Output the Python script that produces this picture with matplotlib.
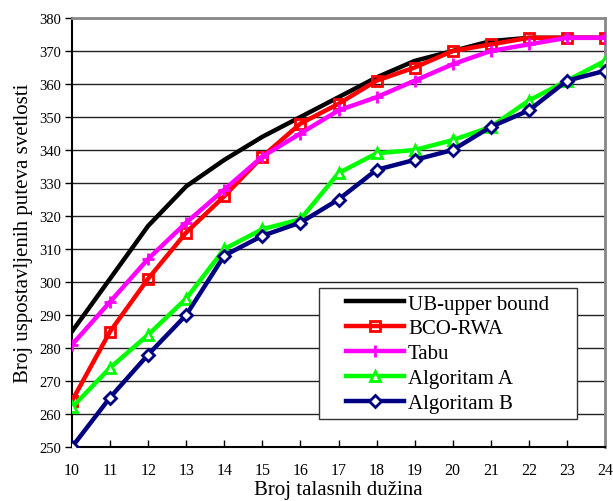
import matplotlib
matplotlib.use("Agg")
import matplotlib.pyplot as plt
from matplotlib.patches import Rectangle

# Data
wavelengths = [10, 11, 12, 13, 14, 15, 16, 17, 18, 19, 20, 21, 22, 23, 24]
ub = [285, 301, 317, 329, 337, 344, 350, 356, 362, 367, 370, 373, 374, 374, 374]
bco_rwa = [264, 285, 301, 315, 326, 338, 348, 354, 361, 365, 370, 372, 374, 374, 374]
tabu = [281, 294, 307, 318, 328, 338, 345, 352, 356, 361, 366, 370, 372, 374, 374]
alg_a = [262, 274, 284, 295, 310, 316, 319, 333, 339, 340, 343, 347, 355, 361, 367]
alg_b = [250, 265, 278, 290, 308, 314, 318, 325, 334, 337, 340, 347, 352, 361, 364]

labels = ["UB-upper bound", "BCO-RWA", "Tabu", "Algoritam A", "Algoritam B"]
y_ticks = list(range(250, 381, 10))

plt.rcParams["font.family"] = ["Liberation Serif", "DejaVu Serif"]

fig = plt.figure(figsize=(6.13, 5.02), dpi=100)
ax = fig.add_axes([72 / 613, 54 / 502, 533 / 613, 429 / 502])

lw = 3.2
ax.plot(wavelengths, ub, color="black", lw=lw, label=labels[0], zorder=3)
ax.plot(wavelengths, bco_rwa, color="#ff0000", lw=lw, marker="s", ms=7,
        mfc="none", mec="#ff0000", mew=2, label=labels[1], zorder=4)
ax.plot(wavelengths, tabu, color="#ff00ff", lw=lw, marker="+", ms=8,
        mew=2, label=labels[2], zorder=5)
ax.plot(wavelengths, alg_a, color="#00ff00", lw=lw, marker="^", ms=7,
        mfc="white", mec="#00ff00", mew=2, label=labels[3], zorder=4)
ax.plot(wavelengths, alg_b, color="#000080", lw=lw, marker="D", ms=6,
        mfc="white", mec="#000080", mew=2, label=labels[4], zorder=5)

ax.set_xlim(10, 24)
ax.set_ylim(250, 380)
ax.set_xticks(wavelengths)
ax.set_yticks(y_ticks)
ax.yaxis.grid(True, color="#222222", lw=1)
ax.set_axisbelow(True)

ax.tick_params(axis="x", direction="in", length=5, labelsize=11.5, pad=11, width=1)
ax.tick_params(axis="y", direction="out", length=5, labelsize=10.5, pad=3, width=1)

for s in ["left", "bottom"]:
    ax.spines[s].set_color("black")
    ax.spines[s].set_linewidth(1.5)
for s in ["top", "right"]:
    ax.spines[s].set_color("#888888")
    ax.spines[s].set_linewidth(2)

ax.set_xlabel("Broj talasnih dužina", fontsize=15, labelpad=1)
ax.set_ylabel("Broj uspostavljenih puteva svetlosti", fontsize=15, labelpad=4)

# legend box drawn separately so the entries sit centred with wide side padding
box = (0.463, 0.065, 0.484, 0.306)
ax.add_patch(Rectangle(box[:2], box[2], box[3], transform=ax.transAxes,
                       facecolor="white", edgecolor="#333333", lw=1, zorder=6))
leg = ax.legend(loc="center", bbox_to_anchor=box, borderaxespad=0,
                fontsize=15, frameon=False, handlelength=2.75,
                handletextpad=0.2, labelspacing=0.25, borderpad=0.3)
leg.set_zorder(7)

fig.savefig("out.png", dpi=100)
